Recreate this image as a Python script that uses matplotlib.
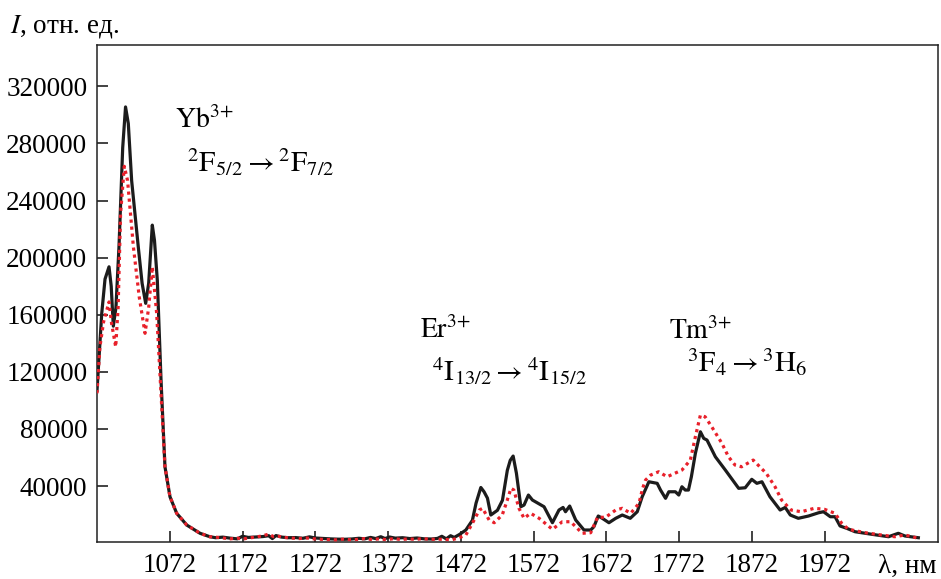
# Luminescence spectrum: Yb/Er/Tm emission, two samples

import matplotlib
matplotlib.use("Agg")
from matplotlib import pyplot as plt

plt.rcParams["font.family"] = ["Liberation Serif", "DejaVu Serif"]
plt.rcParams["mathtext.fontset"] = "stix"

# Sample 1 (solid black)
wl_black = [
    972, 978.5, 983, 988.5, 991.5, 994.4, 998, 1002.2, 1007.3, 1011.2, 1015,
    1019.6, 1028.7, 1034, 1038.9, 1043, 1048, 1051, 1054.9, 1060, 1065.4,
    1072.3, 1081.5, 1095.3, 1113.6, 1127, 1135, 1145, 1155, 1165, 1172,
    1180, 1190, 1200, 1208, 1213, 1218, 1226, 1235, 1245, 1255, 1264, 1272,
    1282, 1292, 1302, 1312, 1322, 1332, 1340, 1348, 1355, 1362, 1368, 1374,
    1382, 1392, 1402, 1412, 1422, 1432, 1440, 1446, 1452, 1458, 1463, 1470,
    1479, 1488, 1493, 1499.6, 1504, 1508.7, 1513.3, 1522.4, 1529.3, 1536,
    1540, 1544, 1548.5, 1554.6, 1559, 1565, 1570.5, 1586.5, 1598, 1607,
    1612.6, 1616, 1621.7, 1630, 1641.4, 1650.6, 1655, 1661, 1666.5, 1675.7,
    1685, 1694, 1705, 1714.6, 1721.4, 1730.6, 1742, 1746.6, 1753.5, 1758,
    1767, 1771.7, 1776, 1780.6, 1785, 1789, 1794.5, 1801.4, 1806, 1810.5,
    1822, 1835.7, 1854, 1863, 1867.7, 1872, 1879, 1886, 1897, 1911, 1918,
    1925, 1936, 1950, 1964, 1970.6, 1980, 1986.5, 1993.4, 2002.5, 2014,
    2037, 2060, 2073.5, 2082.6, 2101,
]
i_black = [
    107000, 161000, 185000, 193600, 180000, 152000, 165000, 207600, 277000,
    305600, 294000, 254000, 207600, 182000, 168000, 182000, 222800, 212000,
    184000, 114000, 53500, 32500, 20900, 12700, 6900, 4500, 3800, 4200, 3500,
    3000, 4800, 4000, 4300, 4600, 5200, 3200, 5300, 4200, 3800, 3900, 3400,
    4400, 3600, 3300, 3000, 2800, 2700, 2900, 3400, 3000, 4000, 3200, 4500,
    3200, 4300, 3500, 3800, 3200, 3600, 3000, 2900, 3300, 4800, 3000, 5200,
    4000, 6000, 9200, 16000, 28000, 39000, 36000, 31500, 19700, 23000,
    30000, 51000, 58000, 61000, 49000, 25500, 26700, 33700, 30200, 25500,
    14300, 23200, 25000, 22000, 26000, 16200, 9200, 9200, 11500, 19000,
    17400, 14300, 17400, 19700, 17400, 22000, 32500, 43000, 41900, 37200,
    31400, 36000, 36000, 33700, 39500, 37200, 37200, 46500, 62900, 78000,
    73400, 72200, 60500, 51200, 38400, 38800, 41900, 44700, 41900, 43000,
    32500, 23200, 25000, 19700, 17400, 19000, 21300, 22000, 18500, 18500,
    12000, 10400, 8000, 6200, 4500, 6900, 5000, 3800,
]

# Sample 2 (red dotted)
wl_red = [
    972, 976, 981, 988.5, 992, 997.7, 1001, 1004.4, 1009.5, 1014, 1022,
    1030, 1038, 1043, 1048, 1054, 1059, 1065.4, 1072.3, 1081.5, 1095.3,
    1113.6, 1127, 1135, 1145, 1155, 1165, 1172, 1180, 1190, 1200, 1208,
    1215, 1222, 1230, 1240, 1250, 1260, 1270, 1280, 1290, 1300, 1310, 1320,
    1330, 1340, 1350, 1360, 1370, 1380, 1390, 1400, 1410, 1420, 1430, 1440,
    1450, 1460, 1470, 1479, 1488, 1497.5, 1502, 1511, 1518, 1529, 1536,
    1541, 1545, 1552, 1559, 1568, 1579.7, 1598, 1611.6, 1623, 1630, 1639,
    1650.6, 1660, 1671, 1685, 1694, 1705.6, 1717, 1722, 1726, 1733, 1744,
    1755.7, 1776, 1787.6, 1794.5, 1801.4, 1808, 1817, 1831, 1840, 1849,
    1858, 1874, 1883, 1892, 1904, 1913, 1926, 1940, 1958, 1972, 1986.5,
    1995.6, 2005, 2028, 2050, 2068.6, 2082.6, 2101,
]
i_red = [
    105000, 137500, 155000, 169000, 154000, 137500, 165000, 231000, 264000,
    254000, 207600, 172600, 147000, 165000, 193600, 161000, 114000, 53500,
    32500, 20900, 12700, 6900, 4500, 4200, 3600, 3000, 3500, 2800, 3600,
    4200, 5200, 6300, 4500, 4800, 4000, 3500, 3200, 3600, 3000, 2700, 2500,
    2300, 2800, 2400, 2600, 3200, 2500, 3000, 2400, 3200, 2500, 3000, 2600,
    3200, 2600, 2800, 2600, 2400, 3800, 5700, 13900, 23200, 24400, 16200,
    14300, 19700, 30200, 38400, 37200, 24400, 17400, 20900, 17400, 9700,
    15000, 15000, 11500, 6900, 7300, 18100, 18100, 23200, 24400, 20900,
    27900, 38400, 44200, 47700, 50000, 46500, 51200, 58200, 74500, 89700,
    88500, 81500, 69900, 60500, 54700, 53500, 58200, 53500, 48900, 39500,
    30200, 23200, 22000, 24400, 23700, 20900, 13900, 9700, 7300, 5700, 4500,
    5700, 3400,
]

x_ticks = [1072, 1172, 1272, 1372, 1472, 1572, 1672, 1772, 1872, 1972]
y_ticks = [40000, 80000, 120000, 160000, 200000, 240000, 280000, 320000]

# Create figure
fig = plt.figure(figsize=(9.41, 5.79), dpi=100)
ax = fig.add_axes([0.1031, 0.0644, 0.8937, 0.8579])

ax.plot(wl_black, i_black, color="#1c1c1c", lw=2.3, zorder=2)
ax.plot(
    wl_red, i_red, color="#e8202a", lw=2.3, linestyle=(0, (1, 1.2)),
    dash_capstyle="butt", zorder=3,
)

ax.set_xlim(972, 2128)
ax.set_ylim(1000, 349000)
ax.set_xticks(x_ticks)
ax.set_yticks(y_ticks)
ax.tick_params(axis="both", direction="in", length=8, width=1.2,
               labelsize=19.5, color="#222222")
ax.tick_params(axis="x", pad=8)
ax.tick_params(axis="y", pad=7)
for sp in ax.spines.values():
    sp.set_linewidth(1.1)
    sp.set_color("#222222")

# Axis captions
fig.text(10 / 941, 1 - 33 / 579, r"$I$, отн. ед.", fontsize=19.5,
         va="baseline", ha="left")
fig.text(937 / 941, 1 - 573 / 579, "λ, нм", fontsize=19.5,
         ha="right", va="baseline")

# Ion labels and transitions
ax.text(1079, 290600, r"$\mathrm{Yb^{3{+}}}$", fontsize=20, va="baseline")
ax.text(1096, 260200, r"$\mathrm{{}^{2}F_{5/2} \rightarrow {}^{2}F_{7/2}}$",
        fontsize=21, va="baseline")
ax.text(1416, 143500, r"$\mathrm{Er^{3{+}}}$", fontsize=20, va="baseline")
ax.text(1433, 113600, r"$\mathrm{{}^{4}I_{13/2} \rightarrow {}^{4}I_{15/2}}$",
        fontsize=21, va="baseline")
ax.text(1758, 142800, r"$\mathrm{Tm^{3{+}}}$", fontsize=20, va="baseline")
ax.text(1783, 119500, r"$\mathrm{{}^{3}F_{4} \rightarrow {}^{3}H_{6}}$",
        fontsize=21, va="baseline")

plt.savefig("out.png", dpi=100)
